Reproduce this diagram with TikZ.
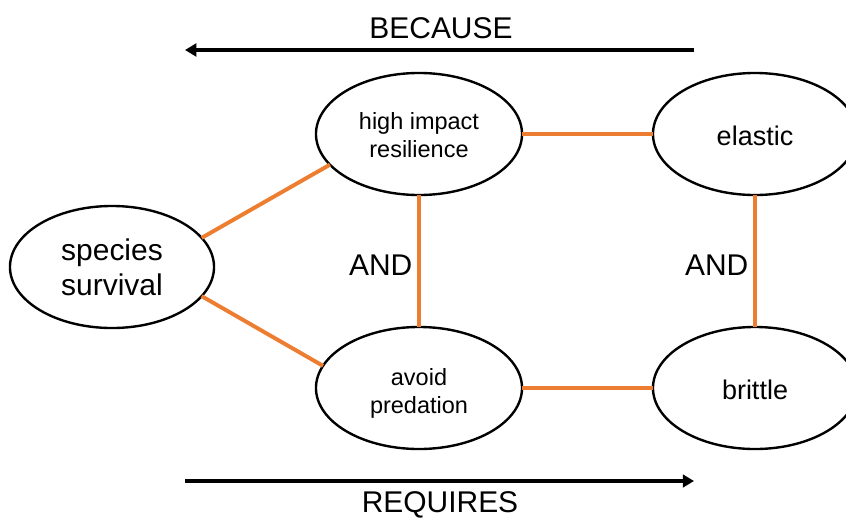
\documentclass[tikz,border=0pt]{standalone}
\usepackage{fontspec}
\setmainfont{Liberation Sans}
\usepackage{tikz}
\usetikzlibrary{shapes.geometric, arrows.meta}
\definecolor{linkorange}{HTML}{ED7D31}
\definecolor{textdark}{HTML}{000000}
\tikzset{
  link/.style={line width=2.8pt, linkorange},
  flowarr/.style={-{Triangle[length=8pt, width=9pt]}, line width=2.8pt, black},
  goal/.style={ellipse, draw=black, line width=1.7pt, minimum width=5.1cm, minimum height=3.05cm, inner sep=0pt, outer sep=0pt, align=center, text=textdark},
}

\begin{document}
\begin{tikzpicture}[x=0.025cm, y=-0.025cm,
    bigtxt/.style={font=\fontsize{21.3}{25}\selectfont, text=textdark},
    midtxt/.style={font=\fontsize{19.2}{23}\selectfont},
    smalltxt/.style={font=\fontsize{16.7}{19.9}\selectfont}]
  \useasboundingbox (0,0) rectangle (846,519);

  % Goals and properties
  \node[goal, bigtxt] (surv) at (112,267) {species\\survival};
  \node[goal, smalltxt, minimum width=5.15cm] (impact) at (419,134) {\rule{0pt}{14pt}high impact\\resilience};
  \node[goal, smalltxt, minimum width=5.15cm] (avoid) at (419,388) {\rule{0pt}{20pt}avoid\\predation};
  \node[goal, midtxt] (elastic) at (755,134) {\rule{0pt}{17pt}elastic};
  \node[goal, midtxt] (brittle) at (755,388) {\rule{0pt}{17pt}brittle};

  \draw[link] (surv.18) -- (impact.199);
  \draw[link] (surv.342) -- (avoid.167);
  \draw[link] (impact.east) -- (elastic.west);
  \draw[link] (avoid.east) -- (brittle.west);
  \draw[link] (impact.south) -- (avoid.north) node[midway, left, bigtxt, yshift=-3pt] (andA) {AND};
  \draw[link] (elastic.south) -- (brittle.north) node[midway, left, bigtxt, yshift=-3pt] (andB) {AND};

  % Reading direction
  \coordinate (becL) at (185,50);
  \coordinate (becR) at (694,50);
  \coordinate (reqL) at (185,481);
  \coordinate (reqR) at (694,481);
  \node[bigtxt] (because) at (441,28) {BECAUSE};
  \node[bigtxt] (requires) at (440,505) {REQUIRES};
  \draw[flowarr] (becR) -- (becL);
  \draw[flowarr] (reqL) -- (reqR);
\end{tikzpicture}
\end{document}
